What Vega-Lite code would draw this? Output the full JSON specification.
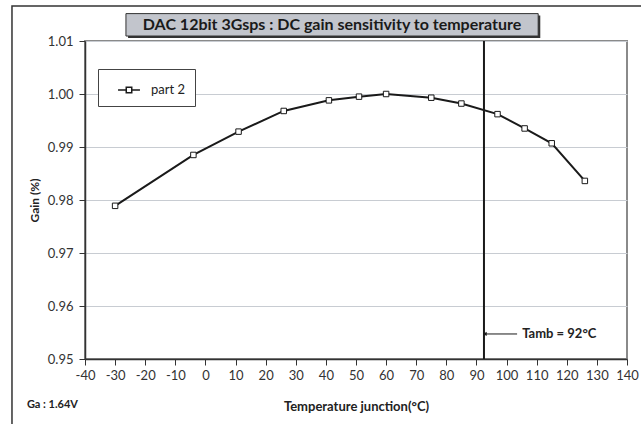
{
  "$schema": "https://vega.github.io/schema/vega-lite/v6.json",
  "width": 542,
  "height": 318,
  "autosize": "none",
  "padding": {"left": 85, "top": 41, "right": 14, "bottom": 65},
  "background": "white",
  "config": {
    "font": "Lato",
    "view": {"stroke": "#8a8a8a", "strokeWidth": 2},
    "axis": {
      "labelFont": "Lato", "labelFontSize": 13, "labelColor": "#333",
      "titleFont": "Lato", "titleFontSize": 13, "titleFontWeight": "bold", "titleColor": "#222",
      "domainColor": "#333", "domainWidth": 1.5, "tickColor": "#333", "tickWidth": 1, "tickSize": 6
    },
    "axisX": {"grid": false, "labelPadding": 4, "titlePadding": 18, "labelFlush": false},
    "axisY": {"grid": true, "gridColor": "#c8ccd2", "gridWidth": 1, "labelPadding": 6, "titlePadding": 6, "titleFontSize": 12}
  },
  "datasets": {
    "series": [
      {"x": -30, "y": 0.9789, "series": "part 2"},
      {"x": -4, "y": 0.9885, "series": "part 2"},
      {"x": 11, "y": 0.9929, "series": "part 2"},
      {"x": 26, "y": 0.9968, "series": "part 2"},
      {"x": 41, "y": 0.9988, "series": "part 2"},
      {"x": 51, "y": 0.9995, "series": "part 2"},
      {"x": 60, "y": 1.0000, "series": "part 2"},
      {"x": 75, "y": 0.9993, "series": "part 2"},
      {"x": 85, "y": 0.9982, "series": "part 2"},
      {"x": 97, "y": 0.9962, "series": "part 2"},
      {"x": 106, "y": 0.9935, "series": "part 2"},
      {"x": 115, "y": 0.9907, "series": "part 2"},
      {"x": 126, "y": 0.9836, "series": "part 2"}
    ],
    "tamb": [{"x": 92.5, "y": 0.95, "y2": 1.01}],
    "frame": [{"x": -64.25, "x2": 170, "y": 1.0166, "y2": 0.9}],
    "titlebox": [{"x": -26.4, "x2": 110.5, "y": 1.01517, "y2": 1.01094}],
    "titletext": [{"x": 42.06, "y": 1.01306, "label": "DAC 12bit 3Gsps : DC gain sensitivity to temperature"}],
    "shadow": [{"x": -25.7, "x2": 111.2, "y": 1.0148, "y2": 1.01056}],
    "arrow": [{"x": 92.8, "x2": 103.5, "y": 0.95472}],
    "tambnote": [{"x": 105.2, "y": 0.95472, "label": "Tamb = 92°C"}],
    "ganote": [{"x": -59.3, "y": 0.94132, "label": "Ga : 1.64V"}]
  },
  "encoding": {
    "x": {"field": "x", "type": "quantitative", "scale": {"domain": [-40, 140], "nice": false, "zero": false}, "title": "Temperature junction(°C)",
          "axis": {"values": [-40, -30, -20, -10, 0, 10, 20, 30, 40, 50, 60, 70, 80, 90, 100, 110, 120, 130, 140], "labelExpr": "replace(datum.label, '\u2212', '-')"}},
    "y": {"field": "y", "type": "quantitative", "scale": {"domain": [0.95, 1.01], "nice": false, "zero": false}, "title": "Gain (%)",
          "axis": {"values": [0.95, 0.96, 0.97, 0.98, 0.99, 1.0, 1.01], "format": ".2f"}}
  },
  "layer": [
    {
      "data": {"name": "series"},
      "mark": {"type": "line", "strokeWidth": 2},
      "encoding": {
        "color": {"field": "series", "type": "nominal", "scale": {"range": ["#1a1a1a"]},
                  "legend": {"title": null, "orient": "none", "legendX": 13, "legendY": 28,
                             "strokeColor": "#444", "fillColor": "white", "padding": 9,
                             "symbolOffset": 10,
                             "symbolType": "M-1,0H-0.25M0.25,0H1M-0.25,-0.25H0.25V0.25H-0.25Z",
                             "symbolSize": 480, "symbolStrokeWidth": 1.5, "symbolFillColor": "white",
                             "labelFontSize": 13, "labelColor": "#222", "labelFont": "Lato", "labelOffset": 10}}
      }
    },
    {
      "data": {"name": "frame"},
      "mark": {"type": "rect", "fill": null, "fillOpacity": 0, "stroke": "#333", "strokeWidth": 1.5},
      "encoding": {"x2": {"field": "x2"}, "y2": {"field": "y2"}}
    },
    {
      "data": {"name": "series"},
      "mark": {"type": "point", "shape": "square", "filled": true, "fill": "white", "stroke": "#1a1a1a", "strokeWidth": 1, "size": 30, "opacity": 1}
    },
    {
      "data": {"name": "tamb"},
      "mark": {"type": "rule", "color": "#1a1a1a", "strokeWidth": 2},
      "encoding": {"y2": {"field": "y2"}}
    },
    {
      "data": {"name": "arrow"},
      "mark": {"type": "rule", "color": "#1a1a1a", "strokeWidth": 1},
      "encoding": {"x2": {"field": "x2"}}
    },
    {
      "data": {"name": "arrow"},
      "mark": {"type": "point", "shape": "triangle-left", "filled": true, "color": "#1a1a1a", "size": 18, "opacity": 1}
    },
    {
      "data": {"name": "tambnote"},
      "mark": {"type": "text", "align": "left", "baseline": "middle", "fontWeight": "bold", "fontSize": 13, "font": "Lato", "color": "#222"},
      "encoding": {"text": {"field": "label"}}
    },
    {
      "data": {"name": "ganote"},
      "mark": {"type": "text", "align": "left", "baseline": "middle", "fontWeight": "bold", "fontSize": 11, "font": "Lato", "color": "#222"},
      "encoding": {"text": {"field": "label"}}
    },
    {
      "data": {"name": "shadow"},
      "mark": {"type": "rect", "fill": "#333", "stroke": null},
      "encoding": {"x2": {"field": "x2"}, "y2": {"field": "y2"}}
    },
    {
      "data": {"name": "titlebox"},
      "mark": {"type": "rect", "fill": "#c2c5cc", "stroke": "#333", "strokeWidth": 1},
      "encoding": {"x2": {"field": "x2"}, "y2": {"field": "y2"}}
    },
    {
      "data": {"name": "titletext"},
      "mark": {"type": "text", "align": "center", "baseline": "middle", "fontWeight": "bold", "fontSize": 16, "font": "Lato", "color": "#1a1a1a"},
      "encoding": {"text": {"field": "label"}}
    }
  ]
}
